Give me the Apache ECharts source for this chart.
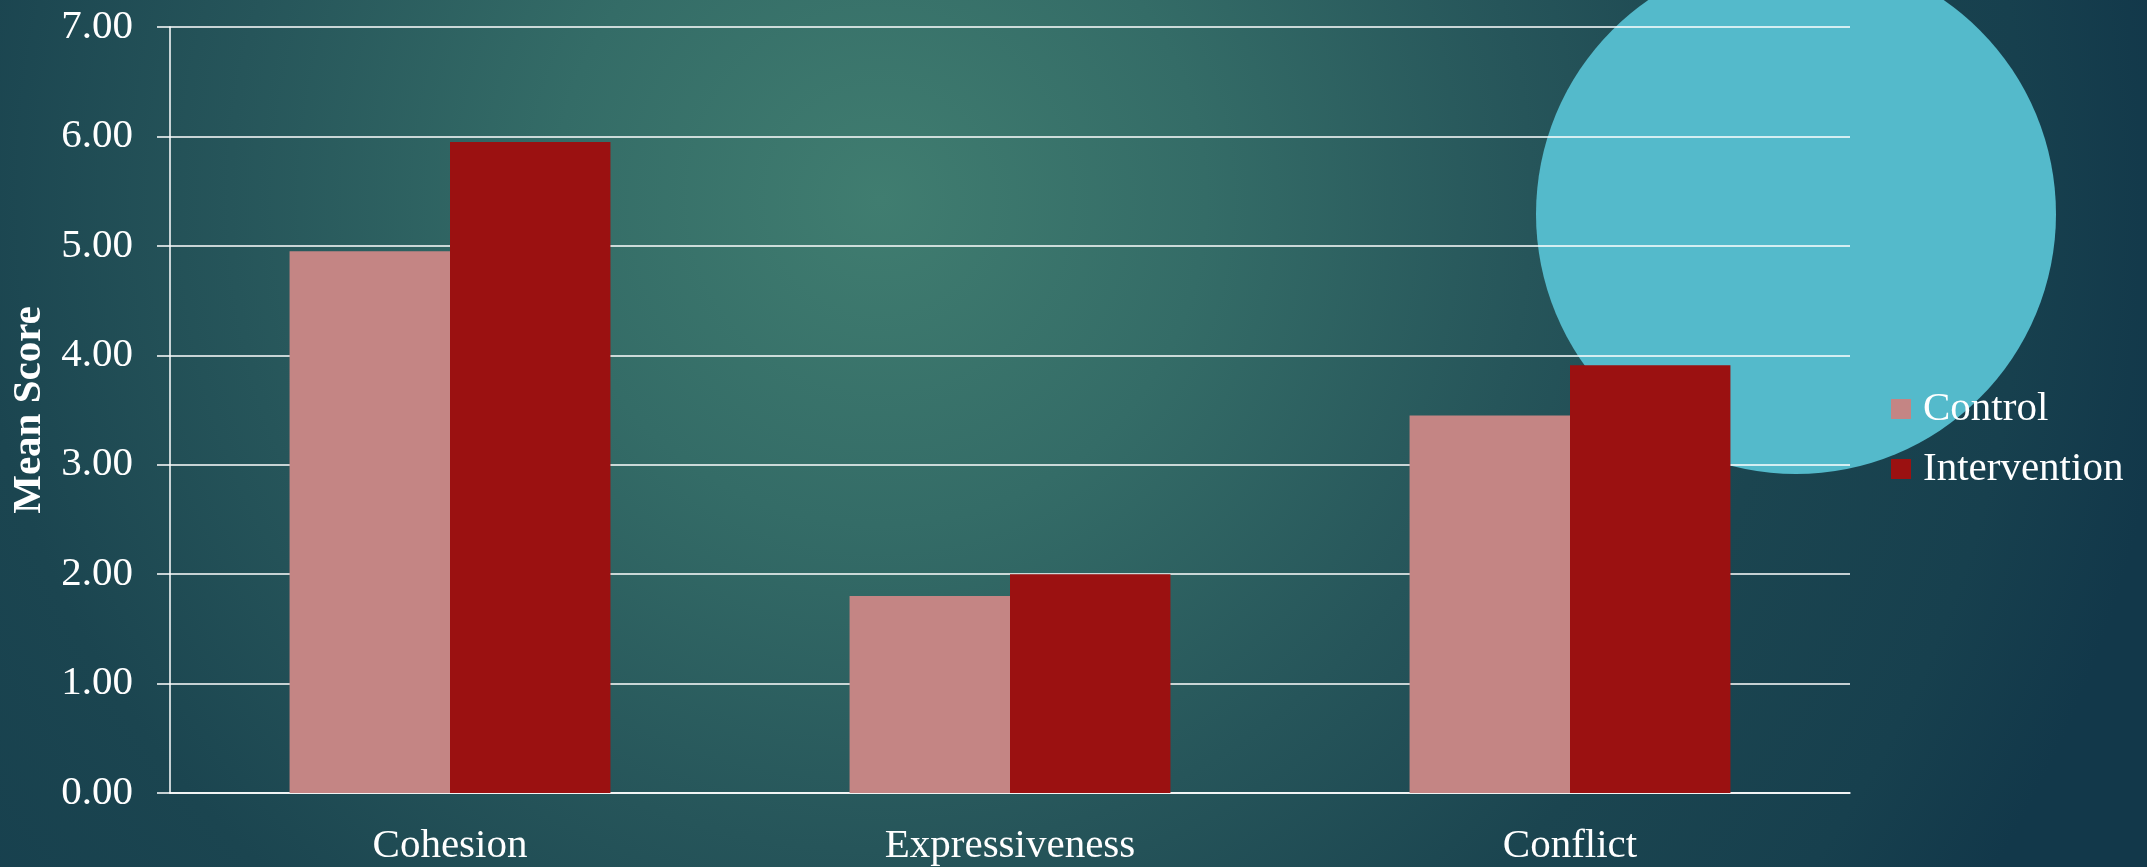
<!DOCTYPE html>
<html>
<head>
<meta charset="utf-8">
<script src="https://cdn.jsdelivr.net/npm/echarts@6/dist/echarts.min.js"></script>
<style>
html,body{margin:0;padding:0;width:2147px;height:867px;overflow:hidden;}
#chart{width:2147px;height:867px;}
</style>
</head>
<body>
<div id="chart"></div>
<script>
var categories = ['Cohesion', 'Expressiveness', 'Conflict'];
var controlValues = [4.95, 1.80, 3.45];
var interventionValues = [5.95, 2.00, 3.91];
var seriesNames = ['Control', 'Intervention'];
var yTicks = { min: 0, max: 7, interval: 1 };

var chart = echarts.init(document.getElementById('chart'));
var font = '"Liberation Serif", "Times New Roman", serif';
chart.setOption({
  backgroundColor: {
    type: 'radial', x: 0.41, y: 0.23, r: 1.5,
    colorStops: [
      { offset: 0, color: '#407D70' },
      { offset: 0.25, color: '#346C67' },
      { offset: 0.5, color: '#26555A' },
      { offset: 0.7, color: '#1B4550' },
      { offset: 0.88, color: '#17404E' },
      { offset: 1, color: '#12384A' }
    ]
  },
  animation: false,
  graphic: [{
    type: 'circle',
    z: -10,
    silent: true,
    shape: { cx: 1796, cy: 214, r: 260 },
    style: { fill: '#54BACB' }
  }],
  legend: {
    orient: 'vertical',
    left: 1891,
    top: 387,
    padding: 0,
    itemWidth: 20,
    itemHeight: 20,
    itemGap: 16,
    icon: 'rect',
    data: seriesNames,
    textStyle: { color: '#FFFFFF', fontSize: 41, fontFamily: font, lineHeight: 44, padding: [0, 0, 0, 7] }
  },
  grid: { left: 170, right: 297, top: 27, bottom: 72, containLabel: false },
  xAxis: {
    type: 'category',
    data: categories,
    axisLine: { lineStyle: { color: '#FFFFFF', width: 1.5 } },
    axisTick: { show: false },
    axisLabel: { color: '#FFFFFF', fontSize: 41, fontFamily: font, margin: 33 }
  },
  yAxis: {
    type: 'value',
    min: yTicks.min, max: yTicks.max, interval: yTicks.interval,
    name: 'Mean Score',
    nameLocation: 'middle',
    nameGap: 118,
    nameTextStyle: { color: '#FFFFFF', fontSize: 41, fontWeight: 'bold', fontFamily: font },
    axisLine: { show: true, lineStyle: { color: '#FFFFFF', width: 1.5 } },
    axisTick: { show: true, length: 13, lineStyle: { color: '#FFFFFF', width: 1.5 } },
    splitLine: { lineStyle: { color: '#FFFFFF', width: 1.5 } },
    axisLabel: {
      color: '#FFFFFF', fontSize: 41, fontFamily: font, margin: 37,
      formatter: function (v) { return v.toFixed(2); }
    }
  },
  series: [
    { name: seriesNames[0], type: 'bar', data: controlValues, barGap: '0%', barCategoryGap: '42.7%',
      itemStyle: { color: '#C48584' } },
    { name: seriesNames[1], type: 'bar', data: interventionValues, barGap: '0%', barCategoryGap: '42.7%',
      itemStyle: { color: '#9B1111' } }
  ]
});
</script>
</body>
</html>
